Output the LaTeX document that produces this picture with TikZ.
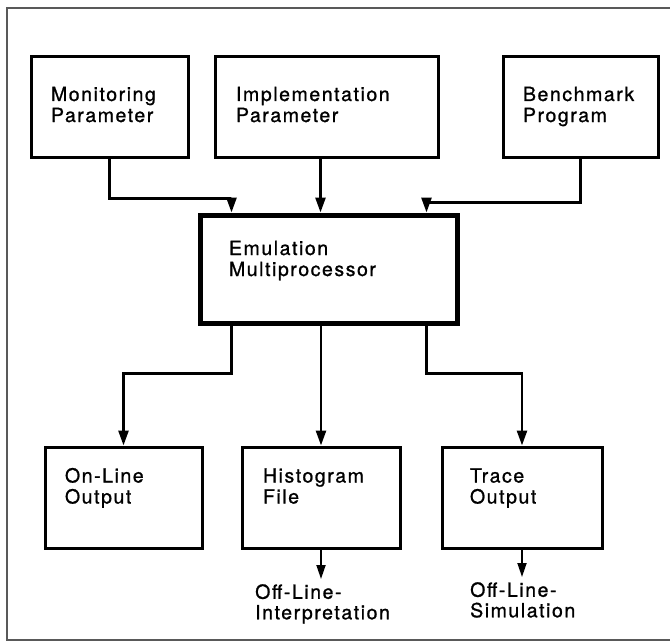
\documentclass[tikz,border=0pt]{standalone}
\usepackage{fontspec}
\newfontfamily\kasten[LetterSpace=8, FakeBold=1]{TeX Gyre Heros}
\usepackage{tikz}
\usetikzlibrary{arrows.meta, positioning, calc}

\tikzset{
	blok/.style={draw, line width=3pt, minimum height=100pt, inner xsep=20pt, inner ysep=0pt,
		align=left, font=\kasten\fontsize{19.5}{21}\selectfont, text height=14pt, text depth=26pt},
	hauptblok/.style={blok, line width=5pt, minimum height=108pt, inner xsep=29pt, text depth=42pt},
	untenblok/.style={blok, minimum height=101pt, text depth=44pt},
	ziel/.style={anchor=north west, inner sep=0pt, align=left, font=\kasten\fontsize{19.5}{20.5}\selectfont},
	pfeil/.style={line width=2.6pt, -{Triangle[length=15pt, width=10pt]}},
	ausgang/.style={line width=1.8pt, -{Triangle[length=14pt, width=9pt]}},
	rahmen/.style={line width=1.2pt, gray!70!black}
}

\begin{document}
\begin{tikzpicture}[x=1pt, y=-1pt]
	\useasboundingbox (0,0) rectangle (670,642);
	\draw[rahmen] (680,8) -- (7,8) -- (7,640) -- (680,640);

	\node[blok, text width=117pt] (mon) at (109.5,107) {Monitoring\\Parameter};
	\node[blok, text width=181pt, inner xsep=21pt] (imp) at (326.5,107) {Implementation\\Parameter};
	\node[blok, text width=115pt] (ben) at (580.5,107) {Benchmark\\Program};

	\node[hauptblok, text width=199pt] (emu) at (328.5,269) {Emulation\\Multiprocessor};

	\node[untenblok, text width=117pt] (onl) at (123.5,497.5) {On-Line\\Output};
	\node[untenblok, text width=116pt, inner xsep=21pt] (his) at (321,497.5) {Histogram\\File};
	\node[untenblok, text width=104pt, inner xsep=28pt] (trc) at (522,497.5) {Trace\\Output};

	\node[ziel] (oli) at (255,584) {Off-Line-\\Interpretation};
	\node[ziel] (ols) at (470,582) {Off-Line-\\Simulation};

	\draw[pfeil] (mon.south) -- ++(0,40) -| ([xshift=34pt]emu.north west);
	\draw[pfeil] ([xshift=-6pt]imp.south) -- ([xshift=-6pt]imp.south |- emu.north);
	\draw[pfeil] (ben.south) -- ++(0,44) -| ([xshift=-33pt]emu.north east);

	\draw[pfeil] ([xshift=34pt]emu.south west) -- ++(0,48) -| (onl.north);
	\draw[pfeil] (emu.south -| his.north) -- (his.north);
	\draw[pfeil] ([xshift=-33pt]emu.south east) -- ++(0,48) -| (trc.north);

	\draw[ausgang] (his.south) -- ([yshift=5pt]his.south |- oli.north);
	\draw[ausgang] (trc.south) -- ([yshift=5pt]trc.south |- ols.north);
\end{tikzpicture}
\end{document}
